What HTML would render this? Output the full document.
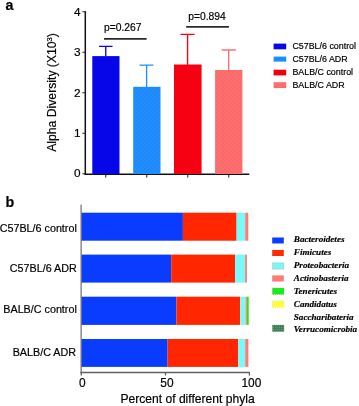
<!DOCTYPE html>
<html><head><meta charset="utf-8"><title>Figure</title>
<style>
html,body{margin:0;padding:0;background:#fff;}
svg{display:block;}
text{font-family:"Liberation Sans",Arial,sans-serif;fill:#000;stroke:#000;stroke-width:0.18px;}
.leg{font-size:8.9px;}
.tk{font-size:11px;}
.ax{font-size:12px;}
.pl{font-size:14.3px;font-weight:bold;fill:#000;}
.it text{font-family:"Liberation Serif","Times New Roman",serif;font-weight:bold;font-style:italic;font-size:9.15px;fill:#000;}
.yl{font-size:10.75px;}
</style></head>
<body>
<svg width="359" height="406" viewBox="0 0 359 406">
<defs>
<pattern id="d2" width="4" height="4" patternUnits="userSpaceOnUse"><rect width="4" height="4" fill="#1e8fff"/><rect x="0.5" y="0.5" width="1" height="1" fill="#2b74ea"/><rect x="2.5" y="2.5" width="1" height="1" fill="#2b74ea"/></pattern>
<pattern id="d3" width="4" height="4" patternUnits="userSpaceOnUse"><rect width="4" height="4" fill="#fb0010"/><rect x="0.5" y="0.5" width="1" height="1" fill="#d60518"/><rect x="2.5" y="2.5" width="1" height="1" fill="#d60518"/></pattern>
<pattern id="d4" width="4" height="4" patternUnits="userSpaceOnUse"><rect width="4" height="4" fill="#ff6e6e"/><rect x="0.5" y="0.5" width="1" height="1" fill="#ea5c5c"/><rect x="2.5" y="2.5" width="1" height="1" fill="#ea5c5c"/></pattern>
<pattern id="dg" width="2" height="2" patternUnits="userSpaceOnUse"><rect width="2" height="2" fill="#3f7d5f"/><rect x="1" y="1" width="1" height="1" fill="#5f9a7c"/></pattern>
</defs>
<rect width="359" height="406" fill="#fff"/>

<!-- panel a -->
<text class="pl" x="5.4" y="10.2">a</text>
<g stroke="#111" stroke-width="1.5" fill="none">
<line x1="85.3" y1="11.2" x2="85.3" y2="174.9"/>
<line x1="84.6" y1="174.3" x2="249.3" y2="174.3"/>
</g>
<g stroke="#222" stroke-width="1" fill="none">
<line x1="82.4" y1="11.75" x2="85" y2="11.75"/>
<line x1="82.4" y1="52.25" x2="85" y2="52.25"/>
<line x1="82.4" y1="92.75" x2="85" y2="92.75"/>
<line x1="82.4" y1="133.25" x2="85" y2="133.25"/>
<line x1="82.4" y1="173.75" x2="85" y2="173.75"/>
<line x1="105.75" y1="174.5" x2="105.75" y2="177.6"/>
<line x1="146.75" y1="174.5" x2="146.75" y2="177.6"/>
<line x1="187.75" y1="174.5" x2="187.75" y2="177.6"/>
<line x1="228.75" y1="174.5" x2="228.75" y2="177.6"/>
</g>
<g class="tk" text-anchor="end" style="font-size:11.8px">
<text x="80.5" y="15.6">4</text>
<text x="80.5" y="56">3</text>
<text x="80.5" y="96.5">2</text>
<text x="80.5" y="137">1</text>
<text x="80.5" y="177.2">0</text>
</g>
<text class="ax" style="font-size:12.2px" transform="translate(56,151.8) rotate(-90)">Alpha Diversity (X10<tspan font-size="7.6px" dy="-4.2">3</tspan><tspan dy="4.2">)</tspan></text>

<!-- bars a -->
<rect x="92.3" y="56.1" width="27.2" height="117.9" fill="#0606e8"/>
<rect x="133.2" y="86.8" width="27.3" height="87.2" fill="url(#d2)"/>
<rect x="174" y="64.5" width="27.6" height="109.5" fill="url(#d3)"/>
<rect x="215.1" y="70" width="27.3" height="104" fill="url(#d4)"/>
<!-- error bars -->
<g fill="none" stroke-width="1.35">
<path d="M105.75 56V46.3M99 46.3H112.5" stroke="#0606e8"/>
<path d="M146.6 87V65.1M139.5 65.1H153.4" stroke="#1e8fff"/>
<path d="M187.6 65V34.3M180.5 34.3H194.6" stroke="#fb0010"/>
<path d="M228.7 70.5V50M221.7 50H235.8" stroke="#ff6e6e"/>
</g>
<!-- p values -->
<text x="104" y="31.2" font-size="10.3px">p=0.267</text>
<line x1="104" y1="38.9" x2="146.6" y2="38.9" stroke="#2a2a2a" stroke-width="1.6"/>
<text x="188.2" y="20" font-size="10.3px">p=0.894</text>
<line x1="186.2" y1="26.9" x2="228.9" y2="26.9" stroke="#2a2a2a" stroke-width="1.6"/>

<!-- legend a -->
<rect x="273.6" y="43.6" width="12.6" height="5.7" fill="#0606e8"/>
<rect x="273.6" y="56.6" width="12.6" height="5" fill="#1b8cff"/>
<rect x="273.6" y="69.7" width="12.6" height="5.7" fill="#f0000c"/>
<rect x="273.6" y="82.2" width="12.6" height="5.8" fill="#ff6a6a"/>
<g class="leg">
<text x="292.4" y="49.2">C57BL/6 control</text>
<text x="292.4" y="62">C57BL/6 ADR</text>
<text x="292.4" y="75.3">BALB/C control</text>
<text x="292.4" y="88.1">BALB/C ADR</text>
</g>

<!-- panel b -->
<text class="pl" x="5.5" y="207.4">b</text>
<g class="yl" text-anchor="end">
<text x="76.8" y="232">C57BL/6 control</text>
<text x="76.8" y="271.6">C57BL/6 ADR</text>
<text x="76.8" y="313.2">BALB/C control</text>
<text x="76" y="356">BALB/C ADR</text>
</g>
<!-- stacked bars -->
<g>
<rect x="81.5" y="212.7" width="101.4" height="28" fill="#0a3cff"/>
<rect x="182.9" y="212.7" width="53.7" height="28" fill="#ff2600"/>
<rect x="236.6" y="212.7" width="8.6" height="28" fill="#78fafa"/>
<rect x="245.2" y="212.7" width="3.1" height="28" fill="#ff7a74"/>
<rect x="81.5" y="254.6" width="89.7" height="28" fill="#0a3cff"/>
<rect x="171.2" y="254.6" width="64.0" height="28" fill="#ff2600"/>
<rect x="235.2" y="254.6" width="9.9" height="28" fill="#78fafa"/>
<rect x="245.1" y="254.6" width="1.8" height="28" fill="#ff7a74"/>
<rect x="81.5" y="296.7" width="94.9" height="28.2" fill="#0a3cff"/>
<rect x="176.4" y="296.7" width="63.8" height="28.2" fill="#ff2600"/>
<rect x="240.2" y="296.7" width="4.9" height="28.2" fill="#78fafa"/>
<rect x="245.4" y="296.7" width="1.6" height="28.2" fill="#ff8a84"/>
<rect x="247" y="296.7" width="1.7" height="28.2" fill="#08f808"/>
<rect x="81.5" y="339" width="86.1" height="27.9" fill="#0a3cff"/>
<rect x="167.6" y="339" width="70.6" height="27.9" fill="#ff2600"/>
<rect x="238.2" y="339" width="7.0" height="27.9" fill="#78fafa"/>
<rect x="245.2" y="339" width="3.2" height="27.9" fill="#ff7a74"/>
</g>
<g stroke="#606060" stroke-width="1.3" fill="none">
<line x1="81.1" y1="204.6" x2="81.1" y2="373" stroke="#505050" stroke-width="1"/>
<line x1="80.5" y1="372.5" x2="249.9" y2="372.5"/>
<line x1="81.3" y1="372.5" x2="81.3" y2="375.5"/>
<line x1="165.5" y1="372.5" x2="165.5" y2="375.5"/>
<line x1="249.4" y1="372.5" x2="249.4" y2="375.5"/>
</g>
<g class="tk" text-anchor="middle" style="font-size:11.9px">
<text x="82.3" y="387.3">0</text>
<text x="166.9" y="387.3">50</text>
<text x="251.4" y="387.3">100</text>
</g>
<text class="ax" style="font-size:12.1px" x="120.4" y="402.5">Percent of different phyla</text>

<!-- legend b -->
<rect x="272.2" y="237.5" width="11.6" height="6" fill="#0a3cff"/>
<rect x="272.2" y="250" width="11.6" height="6" fill="#ff2a00"/>
<rect x="272.4" y="262.8" width="11.4" height="6.4" fill="#7df6f6" stroke="#999" stroke-width="0.6" stroke-dasharray="1 1"/>
<rect x="272.2" y="275.4" width="11.6" height="6.1" fill="#ff7a74"/>
<rect x="272.4" y="288" width="11.6" height="6.4" fill="#10f020" stroke="#9c9c30" stroke-width="0.6" stroke-dasharray="1 1"/>
<rect x="272.4" y="301" width="11.6" height="6.4" fill="#ffff3c" stroke="#e0e060" stroke-width="0.6" stroke-dasharray="1 1"/>
<rect x="272.4" y="325" width="11.6" height="6.6" fill="url(#dg)" stroke="#7a8a40" stroke-width="0.6" stroke-dasharray="1 1"/>
<g class="it">
<text x="293.8" y="242.3">Bacteroidetes</text>
<text x="293.8" y="255">Fimicutes</text>
<text x="293.8" y="268">Proteobacteria</text>
<text x="293.8" y="281">Actinobasteria</text>
<text x="293.8" y="293.6">Tenericutes</text>
<text x="293.8" y="306.6">Candidatus</text>
<text x="293.8" y="319.5">Saccharibateria</text>
<text x="293.8" y="332.3">Verrucomicrobia</text>
</g>
</svg>
</body></html>
